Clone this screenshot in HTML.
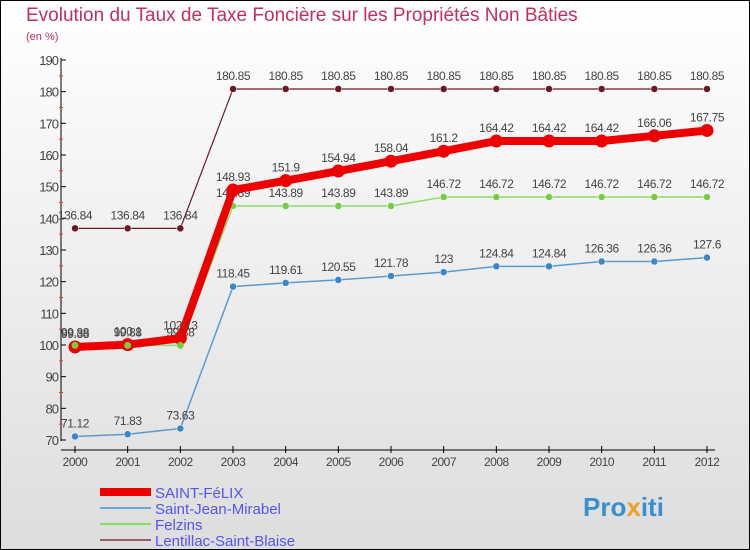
<!DOCTYPE html>
<html><head><meta charset="utf-8"><style>
body{margin:0}
#c{width:750px;height:550px;position:relative;box-sizing:border-box;border:1px solid #000;background:linear-gradient(#fff,#ddd);font-family:"Liberation Sans",sans-serif;overflow:hidden}
</style></head><body>
<div id="c">
<svg width="748" height="548" viewBox="1 1 748 548" xmlns="http://www.w3.org/2000/svg" id="svg">
<text x="26" y="21" font-size="19" fill="#c0305a">Evolution du Taux de Taxe Foncière sur les Propriétés Non Bâties</text>
<text x="26" y="40" font-size="11" fill="#c0305a">(en %)</text>
<g id="axes"></g>
<g id="series"></g>
<g id="legend"></g>
<text x="583" y="516" font-size="26" font-weight="bold" fill="#3a8fd0">Pro<tspan fill="#f0a020">x</tspan>iti</text>
</svg>
</div>
<script>
const years=[2000,2001,2002,2003,2004,2005,2006,2007,2008,2009,2010,2011,2012];
const yTicks=[70,80,90,100,110,120,130,140,150,160,170,180,190];
const stFelix=[99.38,100.1,102.13,148.93,151.9,154.94,158.04,161.2,164.42,164.42,164.42,166.06,167.75];
const stJean=[71.12,71.83,73.63,118.45,119.61,120.55,121.78,123,124.84,124.84,126.36,126.36,127.6];
const felzins=[99.88,99.88,99.88,143.89,143.89,143.89,143.89,146.72,146.72,146.72,146.72,146.72,146.72];
const lentillac=[136.84,136.84,136.84,180.85,180.85,180.85,180.85,180.85,180.85,180.85,180.85,180.85,180.85];
const names=["SAINT-FéLIX","Saint-Jean-Mirabel","Felzins","Lentillac-Saint-Blaise"];
const NS="http://www.w3.org/2000/svg";
const X=i=>75+i*(707-75)/(years.length-1);
const Y=v=>440-(v-70)*380/120;
function mk(t,a,p){const e=document.createElementNS(NS,t);for(const k in a)e.setAttribute(k,a[k]);p.appendChild(e);return e;}
const ax=document.getElementById('axes');
let e=mk('line',{x1:61,y1:58,x2:61,y2:441,stroke:'#000'},ax);


e=mk('line',{x1:61,y1:450,x2:715,y2:450,stroke:'#000'},ax);


yTicks.forEach((v,i)=>{
 mk('line',{x1:61,y1:Y(v),x2:66,y2:Y(v),stroke:'#000'},ax);
 if(i<yTicks.length-1)mk('line',{x1:59,y1:Y(v+5),x2:63,y2:Y(v+5),stroke:'#f33'},ax);
 const t=mk('text',{x:58,y:Y(v)+5,'font-size':13,fill:'#444','text-anchor':'end','letter-spacing':'-1'},ax);
 t.textContent=v;
 
 
});
years.forEach((y,i)=>{
 mk('line',{x1:X(i),y1:446,x2:X(i),y2:453,stroke:'#000'},ax);
 const t=mk('text',{x:X(i),y:466,'font-size':12,fill:'#444','text-anchor':'middle','letter-spacing':'-0.5'},ax);
 t.textContent=y;
 
 
});
const sg=document.getElementById('series');
const defs=[[lentillac,'#6b1a22',1.2,3.5,'#6b1a22'],[stJean,'#5a9ad0',1.5,3.5,'#3a86c6'],[felzins,'#88dd66',1.5,3.5,'#77cc44'],[stFelix,'#ee0000',8,6.5,'#ee0000']];
const slugs=['lentillac','saint-jean-mirabel','felzins','saint-felix'];
defs.forEach((d,k)=>{
 const g=mk('g',{},sg);
 
 
 const p=mk('polyline',{points:d[0].map((v,i)=>X(i)+','+Y(v)).join(' '),fill:'none',stroke:d[1],'stroke-width':d[2],'stroke-linejoin':'round'},g);
 
 
 d[0].forEach((v,i)=>{
  const c=mk('circle',{cx:X(i),cy:Y(v),r:d[3],fill:d[4],stroke:k==3?'#c00':'#fff','stroke-width':k==3?0:0.5},g);
  
  
  const t=mk('text',{x:X(i),y:Y(v)-9,'font-size':12,fill:'#444','text-anchor':'middle','letter-spacing':'-0.4'},g);
  t.textContent=v;
  
  
 });
 if(k==3){felzins.forEach((v,i)=>{if(i<3){const c=mk('circle',{cx:X(i),cy:Y(v),r:3.5,fill:'#77cc44'},sg);
  
  }});}
});
const lg=document.getElementById('legend');
const lc=['#ee0000','#6aa8d8','#88dd66','#946060'],lw=[8,2,2,2];
names.forEach((n,i)=>{
 const y=492+i*16;
 const g=mk('g',{},lg);
 
 
 mk('line',{x1:100,y1:y,x2:151,y2:y,stroke:lc[i],'stroke-width':lw[i]},g);
 const t=mk('text',{x:155,y:y+6,'font-size':15,fill:'#5555ee'},g);
 t.textContent=n;
});
</script>
</body></html>
